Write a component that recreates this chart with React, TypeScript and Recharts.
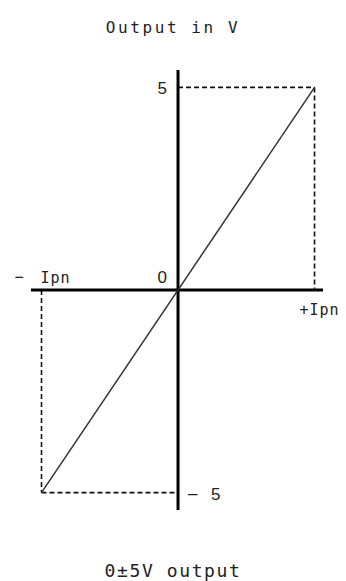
import { LineChart, Line, XAxis, YAxis, ReferenceLine, ReferenceDot } from 'recharts';

// transfer curve: input current (in units of Ipn) -> output voltage
const inputIpn = [-1, 1];
const outputVolts = [-5, 5];
const fullScaleIpn = 1;
const fullScaleVolts = 5;

const xDomain: [number, number] = [-1.077, 1.062];
const yDomain: [number, number] = [-5.43, 5.43];

const data = inputIpn.map((x, i) => ({ x, y: outputVolts[i] }));

const mono = '"DejaVu Sans Mono", monospace';
const sans = '"Liberation Sans", Arial, sans-serif';

function tag(value: string, dx: number, dy: number, anchor: 'start' | 'end', family = mono, size = 15) {
  return (props: any) => {
    const vb = props.viewBox || {};
    return (
      <text
        x={vb.x + dx}
        y={vb.y + dy}
        textAnchor={anchor}
        fontFamily={family}
        fontSize={size}
        letterSpacing={family === mono ? 1 : 0}
        fill="#222"
      >
        {value}
      </text>
    );
  };
}

export default function App() {
  const F = fullScaleIpn;
  const V = fullScaleVolts;
  const dash = { stroke: '#111', strokeWidth: 1.6, strokeDasharray: '5 3' };
  return (
    <div style={{ position: 'absolute', left: 0, top: 0, width: 346, height: 581, background: '#fff' }}>
      <div
        style={{
          position: 'absolute',
          top: 20,
          left: 0,
          width: 346,
          textAlign: 'center',
          fontFamily: mono,
          fontSize: 16,
          lineHeight: '16px',
          letterSpacing: 2.6,
          color: '#222',
        }}
      >
        Output in V
      </div>

      <LineChart width={346} height={581} data={data} margin={{ top: 70, right: 23, bottom: 71, left: 31 }}>
        <XAxis type="number" dataKey="x" domain={xDomain} hide />
        <YAxis type="number" dataKey="y" domain={yDomain} hide />

        {/* guide lines */}
        <ReferenceLine segment={[{ x: 0, y: V }, { x: F, y: V }]} {...dash} />
        <ReferenceLine segment={[{ x: F, y: V }, { x: F, y: 0 }]} {...dash} />
        <ReferenceLine segment={[{ x: -F, y: -V }, { x: 0, y: -V }]} {...dash} />
        <ReferenceLine segment={[{ x: -F, y: 0 }, { x: -F, y: -V }]} {...dash} />

        {/* axes */}
        <ReferenceLine x={0} stroke="#000" strokeWidth={3} />
        <ReferenceLine y={0} stroke="#000" strokeWidth={3} />

        <Line
          type="linear"
          dataKey="y"
          stroke="#333"
          strokeWidth={1.5}
          dot={false}
          activeDot={false}
          isAnimationActive={false}
        />

        <ReferenceDot x={0} y={V} r={0} stroke="none" fill="none" label={{ content: tag('5', -11, 7, 'end', sans, 17) }} />
        <ReferenceDot x={0} y={0} r={0} stroke="none" fill="none" label={{ content: tag('0', -11, -7, 'end', sans, 17) }} />
        <ReferenceDot x={-F} y={0} r={0} stroke="none" fill="none" label={{ content: tag('−', -27, -8, 'start') }} />
        <ReferenceDot x={-F} y={0} r={0} stroke="none" fill="none" label={{ content: tag('Ipn', -1, -7, 'start') }} />
        <ReferenceDot x={F} y={0} r={0} stroke="none" fill="none" label={{ content: tag('+Ipn', -15, 25, 'start') }} />
        <ReferenceDot x={0} y={-V} r={0} stroke="none" fill="none" label={{ content: tag('–', 10, 6, 'start', sans, 17) }} />
        <ReferenceDot x={0} y={-V} r={0} stroke="none" fill="none" label={{ content: tag('5', 33, 7, 'start', sans, 17) }} />
      </LineChart>

      <div
        style={{
          position: 'absolute',
          top: 562,
          left: 0,
          width: 346,
          textAlign: 'center',
          fontFamily: mono,
          fontSize: 18,
          lineHeight: '18px',
          letterSpacing: 1.6,
          color: '#222',
          whiteSpace: 'pre',
        }}
      >
        {'0±5V output'}
      </div>
    </div>
  );
}
